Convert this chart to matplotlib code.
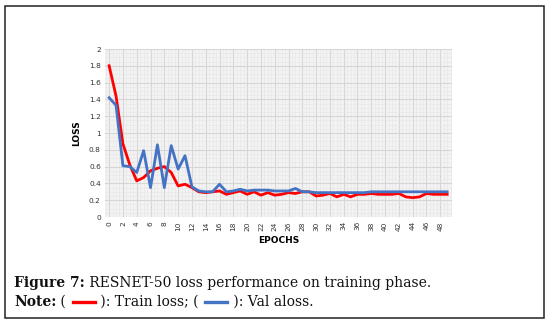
import matplotlib
matplotlib.use("Agg")
import matplotlib.pyplot as plt
from matplotlib.patches import Rectangle
from matplotlib.lines import Line2D
import numpy as np

# ── Data ──────────────────────────────────────────────────────────
epochs = list(range(50))
train_loss = [1.80, 1.44, 0.87, 0.62, 0.43, 0.47, 0.55, 0.58, 0.60, 0.53,
              0.37, 0.39, 0.35, 0.30, 0.29, 0.30, 0.31, 0.27, 0.29, 0.31,
              0.27, 0.30, 0.26, 0.29, 0.26, 0.27, 0.29, 0.28, 0.30, 0.30,
              0.25, 0.26, 0.28, 0.24, 0.27, 0.24, 0.27, 0.27, 0.28, 0.27,
              0.27, 0.27, 0.28, 0.24, 0.23, 0.24, 0.28, 0.27, 0.27, 0.27]
val_loss = [1.42, 1.33, 0.61, 0.60, 0.53, 0.79, 0.35, 0.86, 0.35, 0.85,
            0.57, 0.73, 0.36, 0.31, 0.30, 0.30, 0.39, 0.30, 0.31, 0.33,
            0.31, 0.32, 0.32, 0.32, 0.31, 0.31, 0.31, 0.34, 0.30, 0.30,
            0.29, 0.29, 0.29, 0.29, 0.29, 0.29, 0.29, 0.29, 0.30, 0.30,
            0.30, 0.30, 0.30, 0.30, 0.30, 0.30, 0.30, 0.30, 0.30, 0.30]
yticks = [0, 0.2, 0.4, 0.6, 0.8, 1, 1.2, 1.4, 1.6, 1.8, 2]
ytick_labels = ["0", "0.2", "0.4", "0.6", "0.8", "1", "1.2", "1.4", "1.6", "1.8", "2"]
xticks = list(range(0, 50, 2))

RED = "#ff0000"
BLUE = "#4472c4"

W, H = 553, 326
fig = plt.figure(figsize=(W / 100, H / 100), dpi=100)

# outer frame
fig.patches.append(Rectangle((5 / W, 1 - 318 / H), 539 / W, 312 / H,
                             transform=fig.transFigure, fill=False,
                             edgecolor="#222222", linewidth=1.1))

ax = fig.add_axes([105 / W, 1 - 217 / H, 347 / W, 168 / H])
ax.set_facecolor("#f3f3f3")
ax.plot(epochs, train_loss, color=RED, linewidth=2.0, zorder=3)
ax.plot(epochs, val_loss, color=BLUE, linewidth=2.0, zorder=3)

ax.set_xlim(-0.6, 49.7)
ax.set_ylim(0, 2)
ax.set_yticks(yticks)
ax.set_yticklabels(ytick_labels)
ax.set_xticks(xticks)
ax.set_xticklabels([str(t) for t in xticks], rotation=90)
ax.set_xticks(np.arange(-0.5, 50, 0.5), minor=True)
ax.set_yticks(np.arange(0, 2.01, 0.05), minor=True)
ax.tick_params(axis="both", which="both", length=0, labelsize=5.3, colors="#333333", pad=3)
ax.grid(True, which="major", color="#d6d6d6", linewidth=0.8, zorder=1)
ax.grid(True, which="minor", color="#e6e6e6", linewidth=0.4, zorder=0)
ax.set_axisbelow(True)
for s in ax.spines.values():
    s.set_visible(False)

ax.set_ylabel("LOSS", fontsize=6.5, fontweight="bold", labelpad=6)
ax.set_xlabel("EPOCHS", fontsize=6.5, fontweight="bold", labelpad=4)

# ── Caption ───────────────────────────────────────────────────────
serif = "DejaVu Serif"
fs = 10.0
renderer = fig.canvas.get_renderer()


def put(x_px, y_px, s, **kw):
    t = fig.text(x_px / W, 1 - y_px / H, s, fontsize=fs, family=serif,
                 va="baseline", ha="left", color="#111111", **kw)
    bb = t.get_window_extent(renderer=renderer)
    return x_px + bb.width


def dash(x_px, y_px, color):
    fig.lines.append(Line2D([(x_px + 2) / W, (x_px + 24) / W],
                            [1 - (y_px - 4) / H] * 2, transform=fig.transFigure,
                            color=color, linewidth=2.4))
    return x_px + 26


x = put(14, 287, "Figure 7:", fontweight="bold")
put(x, 287, " RESNET-50 loss performance on training phase.")

x = put(14, 306, "Note:", fontweight="bold")
x = put(x, 306, " ( ")
x = dash(x, 306, RED)
x = put(x, 306, " ): Train loss; ( ")
x = dash(x, 306, BLUE)
put(x, 306, " ): Val aloss.")

fig.savefig("out.png", dpi=100)
